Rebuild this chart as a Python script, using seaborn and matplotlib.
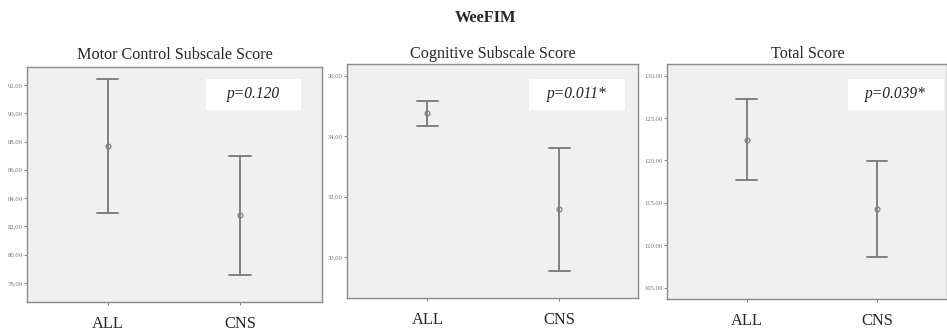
import matplotlib
matplotlib.use("Agg")
import matplotlib.pyplot as plt
import pandas as pd
import seaborn as sns
from matplotlib import ticker
from matplotlib.patches import Rectangle

# Group means with lower / upper error bar ends
groups = ["ALL", "CNS"]
motor_lo = [82.93, 78.56]
motor_mean = [87.69, 82.80]
motor_hi = [92.42, 87.00]
cog_lo = [34.33, 29.55]
cog_mean = [34.75, 31.58]
cog_hi = [35.17, 33.62]
total_lo = [117.66, 108.60]
total_mean = [122.42, 114.24]
total_hi = [127.22, 119.98]

titles = ["Motor Control Subscale Score", "Cognitive Subscale Score", "Total Score"]
p_labels = ["p=0.120", "p=0.011*", "p=0.039*"]
y_ticks = [list(range(78, 93, 2)), list(range(30, 37, 2)), list(range(105, 131, 5))]

sns.set_style("white")
plt.rcParams["font.family"] = "serif"
plt.rcParams["font.serif"] = ["Liberation Serif", "DejaVu Serif"]


def long_table(lo, mean, hi):
    rows = []
    for g, a, m, b in zip(groups, lo, mean, hi):
        for v in (a, m, b):
            rows.append({"group": g, "value": v})
    return pd.DataFrame(rows)


tables = [
    long_table(motor_lo, motor_mean, motor_hi),
    long_table(cog_lo, cog_mean, cog_hi),
    long_table(total_lo, total_mean, total_hi),
]

# layout (figure fractions) and view limits
rects = [
    [0.0285, 0.093, 0.3115, 0.706],
    [0.3665, 0.105, 0.3075, 0.703],
    [0.7045, 0.102, 0.2960, 0.706],
]
ylims = [(76.66, 93.27), (28.64, 36.39), (103.66, 131.38)]
xlims = [(-0.61, 1.62), (-0.61, 1.60), (-0.61, 1.54)]
pboxes = [(0.606, 0.817, 0.324, 0.132), (0.625, 0.803, 0.330, 0.133), (0.644, 0.804, 0.343, 0.132)]
title_pads = [6, 4, 4]

fig = plt.figure(figsize=(9.47, 3.33), dpi=100)
fig.text(0.513, 0.945, "WeeFIM", ha="center", va="center", fontsize=11.8, fontweight="bold")

for i in range(3):
    ax = fig.add_axes(rects[i])
    ax.set_facecolor("#f0f0f0")
    sns.pointplot(
        data=tables[i],
        x="group",
        y="value",
        estimator="median",
        errorbar=("pi", 100),
        capsize=0.16,
        color="#808080",
        linestyle="none",
        marker="o",
        markersize=3.5,
        markerfacecolor="#f0f0f0",
        markeredgewidth=0.9,
        err_kws={"linewidth": 1.4},
        ax=ax,
    )
    ax.set_xlim(*xlims[i])
    ax.set_ylim(*ylims[i])
    ax.set_xlabel("")
    ax.set_ylabel("")
    ax.set_title(titles[i], fontsize=11.6, pad=title_pads[i])
    ax.yaxis.set_major_locator(ticker.FixedLocator(y_ticks[i]))
    ax.yaxis.set_major_formatter(ticker.FuncFormatter(lambda v, _: f"{v:.2f}".replace(".", ",")))
    ax.tick_params(axis="y", labelsize=4.8, labelcolor="#777777", length=2, width=0.6,
                   color="#666666", left=True, pad=1)
    ax.tick_params(axis="x", labelsize=11.8, length=2, width=0.6, color="#666666",
                   bottom=True, pad=8)
    for s in ax.spines.values():
        s.set_color("#8a8a8a")
        s.set_linewidth(1.0)
    bx, by, bw, bh = pboxes[i]
    ax.add_patch(Rectangle((bx, by), bw, bh, transform=ax.transAxes,
                           facecolor="white", edgecolor="none", zorder=3))
    ax.text(bx + bw / 2, by + bh / 2, p_labels[i], transform=ax.transAxes,
            ha="center", va="center", fontsize=11.2, fontstyle="italic",
            color="#222222", zorder=4)

fig.savefig("out.png", dpi=100)
